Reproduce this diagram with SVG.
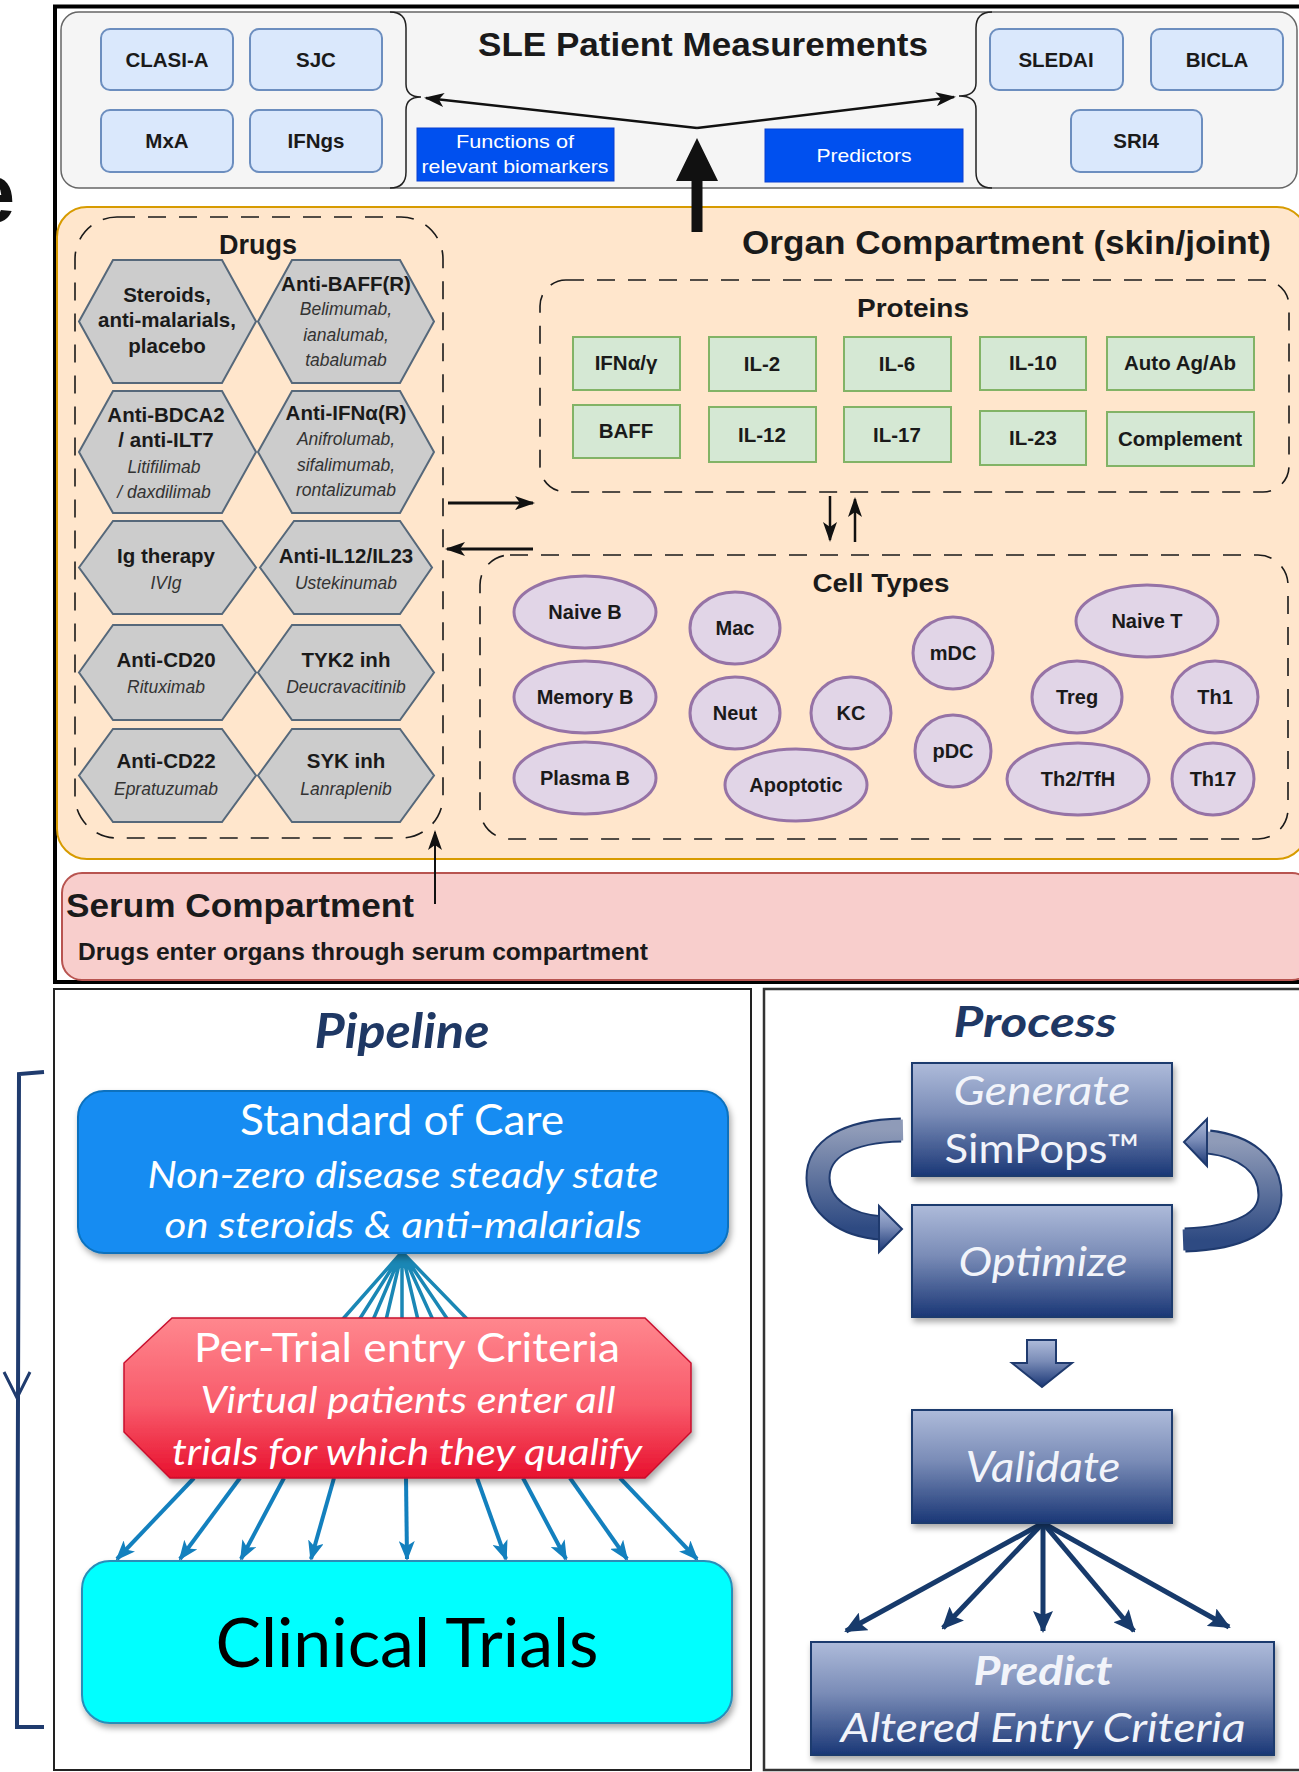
<svg xmlns="http://www.w3.org/2000/svg" width="1299" height="1772" viewBox="0 0 1299 1772">
<defs>
<style>
.t{font-family:"Liberation Sans",Arial,sans-serif;font-weight:bold;fill:#1a1a1a;text-anchor:middle}
.h{font-size:20.5px}
.i{font-family:"Liberation Sans",Arial,sans-serif;font-style:italic;fill:#333;text-anchor:middle;font-size:17.5px}
.w{font-family:"Liberation Sans",Arial,sans-serif;fill:#fff;text-anchor:middle;font-size:19px}
.meas{fill:#dae8fc;stroke:#6c8ebf;stroke-width:2}
.blue{fill:#0050ef;stroke:#0a3fd0;stroke-width:1}
.hex{fill:#cccccc;stroke:#56687a;stroke-width:2}
.prot{fill:#d5e8d4;stroke:#82b366;stroke-width:2}
.cell{fill:#e1d5e7;stroke:#9673a6;stroke-width:3}
.dash{fill:none;stroke:#1a1a1a;stroke-width:1.6;stroke-dasharray:18 13}
.c{font-family:Lato,"Liberation Sans",sans-serif;text-anchor:middle}
.pb{fill:url(#gNavy);stroke:#1f3a6e;stroke-width:2;filter:url(#sh)}
.pt{font-family:Lato,"Liberation Sans",sans-serif;text-anchor:middle;fill:#f2f4fa}
.fan{stroke:#1a87b5;stroke-width:3.5;fill:none}
.ct{stroke:#1380be;stroke-width:4;fill:none;marker-end:url(#mCt)}
.pv{stroke:#173a6b;stroke-width:5;fill:none;marker-end:url(#mPv)}
.blk{stroke:#111;fill:none;marker-end:url(#mBk)}
</style>
<linearGradient id="gNavy" x1="0" y1="0" x2="0" y2="1">
<stop offset="0" stop-color="#aebbda"/>
<stop offset="0.45" stop-color="#7a8cb7"/>
<stop offset="1" stop-color="#1a3776"/>
</linearGradient>
<linearGradient id="gRib" x1="0" y1="0" x2="0" y2="1">
<stop offset="0" stop-color="#8f9bb8"/>
<stop offset="1" stop-color="#2e4a82"/>
</linearGradient>
<linearGradient id="gRed" x1="0" y1="0" x2="0" y2="1">
<stop offset="0" stop-color="#ff878e"/>
<stop offset="0.55" stop-color="#f85a6a"/>
<stop offset="1" stop-color="#e8102e"/>
</linearGradient>
<filter id="sh" x="-10%" y="-10%" width="125%" height="130%">
<feDropShadow dx="2" dy="4" stdDeviation="3" flood-color="#000" flood-opacity="0.35"/>
</filter>
<marker id="mBk" viewBox="0 0 20 14" refX="18" refY="7" markerWidth="20" markerHeight="14" markerUnits="userSpaceOnUse" orient="auto">
<path d="M0,0 L20,7 L0,14 L5,7 z" fill="#111"/>
</marker>
<marker id="mCt" viewBox="0 0 20 16" refX="18" refY="8" markerWidth="20" markerHeight="16" markerUnits="userSpaceOnUse" orient="auto">
<path d="M0,0 L20,8 L0,16 L5,8 z" fill="#1380be"/>
</marker>
<marker id="mPv" viewBox="0 0 22 20" refX="20" refY="10" markerWidth="22" markerHeight="20" markerUnits="userSpaceOnUse" orient="auto">
<path d="M0,0 L22,10 L0,20 L4,10 z" fill="#173a6b"/>
</marker>
</defs>

<rect width="1299" height="1772" fill="#fff"/>
<text x="-31" y="222" font-family="Liberation Sans,Arial,sans-serif" font-weight="bold" font-size="83" fill="#111">e</text>

<!-- top black frame -->
<rect id="frame" x="55" y="6.5" width="1260" height="975.5" fill="#fff" stroke="#000" stroke-width="4"/>

<!-- patient measurements -->
<g id="measurements">
<rect x="61" y="12" width="1236" height="176" rx="18" fill="#f5f5f5" stroke="#666" stroke-width="1.5"/>
<path d="M390,12 Q406,12 406,28 L406,84 Q406,97 421,97 Q406,97 406,110 L406,172 Q406,188 390,188" fill="none" stroke="#222" stroke-width="1.5"/>
<path d="M992,12 Q976,12 976,28 L976,83 Q976,96 959,96 Q976,96 976,109 L976,172 Q976,188 992,188" fill="none" stroke="#222" stroke-width="1.5"/>
<text class="t" x="703" y="56" font-size="33" textLength="450" lengthAdjust="spacingAndGlyphs" fill="#111">SLE Patient Measurements</text>
</g>
<g id="clasi"><rect class="meas" x="101" y="29" width="132" height="61" rx="9"/><text class="t h" x="167" y="67">CLASI-A</text></g>
<g id="sjc"><rect class="meas" x="250" y="29" width="132" height="61" rx="9"/><text class="t h" x="316" y="67">SJC</text></g>
<g id="mxa"><rect class="meas" x="101" y="110" width="132" height="62" rx="9"/><text class="t h" x="167" y="148">MxA</text></g>
<g id="ifngs"><rect class="meas" x="250" y="110" width="132" height="62" rx="9"/><text class="t h" x="316" y="148">IFNgs</text></g>
<g id="sledai"><rect class="meas" x="990" y="29" width="133" height="61" rx="9"/><text class="t h" x="1056" y="67">SLEDAI</text></g>
<g id="bicla"><rect class="meas" x="1151" y="29" width="132" height="61" rx="9"/><text class="t h" x="1217" y="67">BICLA</text></g>
<g id="sri4"><rect class="meas" x="1071" y="110" width="131" height="62" rx="9"/><text class="t h" x="1136" y="148">SRI4</text></g>
<g id="functions"><rect class="blue" x="417" y="128" width="197" height="53"/>
<text class="w" x="515" y="148" textLength="118" lengthAdjust="spacingAndGlyphs">Functions of</text>
<text class="w" x="515" y="173" textLength="187" lengthAdjust="spacingAndGlyphs">relevant biomarkers</text></g>
<g id="predictors"><rect class="blue" x="765" y="129" width="198" height="53"/>
<text class="w" x="864" y="162" textLength="95" lengthAdjust="spacingAndGlyphs">Predictors</text></g>

<!-- organ compartment -->
<g id="organ">
<rect x="57" y="207" width="1250" height="652" rx="30" fill="#ffe6cc" stroke="#d79b00" stroke-width="2"/>
<text class="t" x="1271" y="254" font-size="33" text-anchor="end" style="text-anchor:end" textLength="529" lengthAdjust="spacingAndGlyphs" fill="#111">Organ Compartment (skin/joint)</text>
</g>

<g id="drugs">
<rect class="dash" x="75" y="217" width="368" height="621" rx="42"/>
<text class="t" x="258" y="254" font-size="27">Drugs</text>
</g>
<g id="hex1"><polygon class="hex" points="79,321.5 113,260 222,260 256,321.5 222,383 113,383"/>
<text class="t h" x="167" y="302">Steroids,</text><text class="t h" x="167" y="327">anti-malarials,</text><text class="t h" x="167" y="353">placebo</text></g>
<g id="hex2"><polygon class="hex" points="258,321.5 292,260 400,260 434,321.5 400,383 292,383"/>
<text class="t h" x="346" y="291">Anti-BAFF(R)</text><text class="i" x="346" y="315">Belimumab,</text><text class="i" x="346" y="341">ianalumab,</text><text class="i" x="346" y="366">tabalumab</text></g>
<g id="hex3"><polygon class="hex" points="79,452 113,391 222,391 256,452 222,513 113,513"/>
<text class="t h" x="166" y="422">Anti-BDCA2</text><text class="t h" x="166" y="447">/ anti-ILT7</text><text class="i" x="164" y="473">Litifilimab</text><text class="i" x="164" y="498">/ daxdilimab</text></g>
<g id="hex4"><polygon class="hex" points="258,452 292,391 400,391 434,452 400,513 292,513"/>
<text class="t h" x="346" y="420">Anti-IFNα(R)</text><text class="i" x="346" y="445">Anifrolumab,</text><text class="i" x="346" y="471">sifalimumab,</text><text class="i" x="346" y="496">rontalizumab</text></g>
<g id="hex5"><polygon class="hex" points="79,567.5 113,521 222,521 256,567.5 222,614 113,614"/>
<text class="t h" x="166" y="563">Ig therapy</text><text class="i" x="166" y="589">IVIg</text></g>
<g id="hex6"><polygon class="hex" points="260,567.5 294,521 400,521 432,567.5 400,614 294,614"/>
<text class="t h" x="346" y="563">Anti-IL12/IL23</text><text class="i" x="346" y="589">Ustekinumab</text></g>
<g id="hex7"><polygon class="hex" points="79,672.5 113,625 222,625 256,672.5 222,720 113,720"/>
<text class="t h" x="166" y="667">Anti-CD20</text><text class="i" x="166" y="693">Rituximab</text></g>
<g id="hex8"><polygon class="hex" points="258,672.5 292,625 400,625 434,672.5 400,720 292,720"/>
<text class="t h" x="346" y="667">TYK2 inh</text><text class="i" x="346" y="693">Deucravacitinib</text></g>
<g id="hex9"><polygon class="hex" points="79,775.5 113,729 222,729 256,775.5 222,822 113,822"/>
<text class="t h" x="166" y="768">Anti-CD22</text><text class="i" x="166" y="795">Epratuzumab</text></g>
<g id="hex10"><polygon class="hex" points="258,775.5 292,729 400,729 434,775.5 400,822 292,822"/>
<text class="t h" x="346" y="768">SYK inh</text><text class="i" x="346" y="795">Lanraplenib</text></g>

<g id="proteins">
<rect class="dash" x="540" y="280" width="749" height="212" rx="26"/>
<text class="t" x="913" y="317" font-size="25" textLength="112" lengthAdjust="spacingAndGlyphs">Proteins</text>
</g>
<g id="p-ifn"><rect class="prot" x="573" y="337" width="107" height="53"/><text class="t" font-size="20.5" x="626" y="370">IFNα/γ</text></g>
<g id="p-il2"><rect class="prot" x="709" y="337" width="107" height="54"/><text class="t" font-size="20.5" x="762" y="371">IL-2</text></g>
<g id="p-il6"><rect class="prot" x="844" y="337" width="107" height="54"/><text class="t" font-size="20.5" x="897" y="371">IL-6</text></g>
<g id="p-il10"><rect class="prot" x="980" y="337" width="106" height="53"/><text class="t" font-size="20.5" x="1033" y="370">IL-10</text></g>
<g id="p-auto"><rect class="prot" x="1107" y="337" width="147" height="53"/><text class="t" font-size="20.5" x="1180" y="370">Auto Ag/Ab</text></g>
<g id="p-baff"><rect class="prot" x="573" y="405" width="107" height="53"/><text class="t" font-size="20.5" x="626" y="438">BAFF</text></g>
<g id="p-il12"><rect class="prot" x="709" y="407" width="107" height="55"/><text class="t" font-size="20.5" x="762" y="442">IL-12</text></g>
<g id="p-il17"><rect class="prot" x="844" y="407" width="107" height="55"/><text class="t" font-size="20.5" x="897" y="442">IL-17</text></g>
<g id="p-il23"><rect class="prot" x="980" y="411" width="106" height="54"/><text class="t" font-size="20.5" x="1033" y="445">IL-23</text></g>
<g id="p-comp"><rect class="prot" x="1107" y="412" width="147" height="54"/><text class="t" font-size="20.5" x="1180" y="446">Complement</text></g>

<g id="celltypes">
<rect class="dash" x="480" y="555" width="808" height="284" rx="30"/>
<text class="t" x="881" y="592" font-size="25" textLength="137" lengthAdjust="spacingAndGlyphs">Cell Types</text>
</g>
<g id="c-naiveb"><ellipse class="cell" cx="585" cy="612" rx="71" ry="36"/><text class="t" font-size="20" x="585" y="619">Naive B</text></g>
<g id="c-memb"><ellipse class="cell" cx="585" cy="697" rx="71" ry="36"/><text class="t" font-size="20" x="585" y="704">Memory B</text></g>
<g id="c-plasmab"><ellipse class="cell" cx="585" cy="778" rx="71" ry="36"/><text class="t" font-size="20" x="585" y="785">Plasma B</text></g>
<g id="c-mac"><ellipse class="cell" cx="735" cy="628" rx="45" ry="36"/><text class="t" font-size="20" x="735" y="635">Mac</text></g>
<g id="c-neut"><ellipse class="cell" cx="735" cy="713" rx="45" ry="36"/><text class="t" font-size="20" x="735" y="720">Neut</text></g>
<g id="c-kc"><ellipse class="cell" cx="851" cy="713" rx="40" ry="36"/><text class="t" font-size="20" x="851" y="720">KC</text></g>
<g id="c-apop"><ellipse class="cell" cx="796" cy="785" rx="71" ry="36"/><text class="t" font-size="20" x="796" y="792">Apoptotic</text></g>
<g id="c-mdc"><ellipse class="cell" cx="953" cy="653" rx="40" ry="36"/><text class="t" font-size="20" x="953" y="660">mDC</text></g>
<g id="c-pdc"><ellipse class="cell" cx="953" cy="751" rx="38" ry="36"/><text class="t" font-size="20" x="953" y="758">pDC</text></g>
<g id="c-naivet"><ellipse class="cell" cx="1147" cy="621" rx="71" ry="36"/><text class="t" font-size="20" x="1147" y="628">Naive T</text></g>
<g id="c-treg"><ellipse class="cell" cx="1077" cy="697" rx="45" ry="36"/><text class="t" font-size="20" x="1077" y="704">Treg</text></g>
<g id="c-th1"><ellipse class="cell" cx="1215" cy="697" rx="43" ry="36"/><text class="t" font-size="20" x="1215" y="704">Th1</text></g>
<g id="c-th2"><ellipse class="cell" cx="1078" cy="779" rx="71" ry="36"/><text class="t" font-size="20" x="1078" y="786">Th2/TfH</text></g>
<g id="c-th17"><ellipse class="cell" cx="1213" cy="779" rx="41" ry="36"/><text class="t" font-size="20" x="1213" y="786">Th17</text></g>

<!-- serum -->
<g id="serum">
<rect x="62" y="873" width="1250" height="107" rx="20" fill="#f8cecc" stroke="#b85450" stroke-width="2"/>
<text class="t" x="66" y="917" font-size="34" style="text-anchor:start" textLength="348" lengthAdjust="spacingAndGlyphs" fill="#111">Serum Compartment</text>
<text class="t" x="78" y="960" font-size="23" style="text-anchor:start" textLength="570" lengthAdjust="spacingAndGlyphs" fill="#111">Drugs enter organs through serum compartment</text>
</g>

<!-- bottom panels -->
<g id="pipeline">
<rect x="54" y="989" width="697" height="781" fill="#fff" stroke="#222" stroke-width="2"/>
<text class="c" x="402" y="1048" font-size="48" font-weight="bold" font-style="italic" fill="#1f3864" textLength="175" lengthAdjust="spacingAndGlyphs">Pipeline</text>
</g>
<g id="process">
<rect x="764" y="989" width="545" height="781" fill="#fff" stroke="#333" stroke-width="2.5"/>
<text class="c" x="1035" y="1037" font-size="42" font-weight="bold" font-style="italic" fill="#1f3864" textLength="163" lengthAdjust="spacingAndGlyphs">Process</text>
</g>

<g id="connectors">
<!-- top measurement arrows -->
<path class="blk" d="M697,128 L426,98" stroke-width="2.5"/>
<path class="blk" d="M697,128 L954,97" stroke-width="2.5"/>
<polygon points="691.5,232 702.5,232 702.5,181 718,181 697,138 676,181 691.5,181" fill="#111"/>
<!-- drugs <-> organ -->
<path class="blk" d="M448,503 L533,503" stroke-width="3"/>
<path class="blk" d="M533,549 L447,549" stroke-width="3"/>
<path class="blk" d="M830,496 L830,540" stroke-width="2.5"/>
<path class="blk" d="M855,542 L855,499" stroke-width="2.5"/>
<path class="blk" d="M435,904 L435,832" stroke-width="2"/>
<!-- pipeline fan -->
<path class="fan" d="M402,1252 L342,1320 M402,1252 L359,1320 M402,1252 L373,1320 M402,1252 L386,1320 M402,1252 L402,1320 M402,1252 L418,1320 M402,1252 L433,1320 M402,1252 L448,1320 M402,1252 L468,1320"/>
<path class="ct" d="M194,1478 L117,1559"/>
<path class="ct" d="M240,1478 L180,1559"/>
<path class="ct" d="M284,1478 L241,1559"/>
<path class="ct" d="M334,1478 L311,1559"/>
<path class="ct" d="M406,1478 L407,1559"/>
<path class="ct" d="M477,1478 L506,1559"/>
<path class="ct" d="M523,1478 L566,1559"/>
<path class="ct" d="M570,1478 L627,1559"/>
<path class="ct" d="M620,1478 L697,1559"/>
<!-- process fan -->
<path class="pv" d="M1043,1523 L846,1631"/>
<path class="pv" d="M1043,1523 L943,1628"/>
<path class="pv" d="M1043,1523 L1043,1631"/>
<path class="pv" d="M1043,1523 L1134,1631"/>
<path class="pv" d="M1043,1523 L1229,1627"/>
<!-- ribbons -->
<path d="M901,1130 C845,1131 818,1150 818,1178 C818,1206 845,1226 882,1228" fill="none" stroke="#1f3a6e" stroke-width="25"/>
<path d="M903,1130 C845,1131 818,1150 818,1178 C818,1206 845,1226 884,1228" fill="none" stroke="url(#gRib)" stroke-width="21"/>
<polygon points="879,1206 902,1229 879,1252" fill="url(#gNavy)" stroke="#1f3a6e" stroke-width="2"/>
<path d="M1185,1240 C1240,1238 1270,1222 1270,1195 C1270,1165 1245,1146 1209,1142" fill="none" stroke="#1f3a6e" stroke-width="25"/>
<path d="M1183,1240 C1240,1238 1270,1222 1270,1195 C1270,1165 1245,1146 1207,1142" fill="none" stroke="url(#gRib)" stroke-width="21"/>
<polygon points="1207,1119 1184,1142 1207,1166" fill="url(#gNavy)" stroke="#1f3a6e" stroke-width="2"/>
<polygon points="1027,1340 1056,1340 1056,1363 1072,1363 1042,1387 1012,1363 1027,1363" fill="url(#gNavy)" stroke="#1f3a6e" stroke-width="2"/>
<!-- bracket -->
<path d="M44,1072 L19,1074 L17,1727 L44,1727" fill="none" stroke="#1f3b6e" stroke-width="4"/>
<path d="M4,1372 L17,1398 L30,1372" fill="none" stroke="#1f3b6e" stroke-width="3"/>
</g>

<g id="soc">
<rect x="78" y="1091" width="650" height="162" rx="26" fill="#138cf2" stroke="#0b71bd" stroke-width="2" filter="url(#sh)"/>
<text class="c" x="402" y="1135" font-size="42" fill="#fff" textLength="324" lengthAdjust="spacingAndGlyphs">Standard of Care</text>
<text class="c" x="403" y="1188" font-size="37" font-style="italic" fill="#fff" textLength="511" lengthAdjust="spacingAndGlyphs">Non-zero disease steady state</text>
<text class="c" x="403" y="1238" font-size="37" font-style="italic" fill="#fff" textLength="477" lengthAdjust="spacingAndGlyphs">on steroids &amp; anti-malarials</text>
</g>
<g id="pertrial">
<polygon points="172,1318 645,1318 691,1363 691,1432 645,1478 170,1478 124,1432 124,1363" fill="url(#gRed)" stroke="#c8102e" stroke-width="1.5" filter="url(#sh)"/>
<text class="c" x="407" y="1362" font-size="40" fill="#fff" textLength="426" lengthAdjust="spacingAndGlyphs">Per-Trial entry Criteria</text>
<text class="c" x="408" y="1413" font-size="37" font-style="italic" fill="#fff" textLength="415" lengthAdjust="spacingAndGlyphs">Virtual patients enter all</text>
<text class="c" x="407" y="1465" font-size="37" font-style="italic" fill="#fff" textLength="470" lengthAdjust="spacingAndGlyphs">trials for which they qualify</text>
</g>
<g id="clinical">
<rect x="82" y="1561" width="650" height="162" rx="28" fill="#00ffff" stroke="#2a8db8" stroke-width="2" filter="url(#sh)"/>
<text class="c" x="407" y="1667" font-size="67" fill="#000" textLength="383" lengthAdjust="spacingAndGlyphs">Clinical Trials</text>
</g>
<g id="generate">
<rect class="pb" x="912" y="1063" width="260" height="113"/>
<text class="pt" x="1042" y="1105" font-size="40" font-style="italic" textLength="177" lengthAdjust="spacingAndGlyphs">Generate</text>
<text class="pt" x="1042" y="1163" font-size="40" textLength="195" lengthAdjust="spacingAndGlyphs">SimPops™</text>
</g>
<g id="optimize">
<rect class="pb" x="912" y="1205" width="260" height="112"/>
<text class="pt" x="1043" y="1276" font-size="41" font-style="italic" textLength="169" lengthAdjust="spacingAndGlyphs">Optimize</text>
</g>
<g id="validate">
<rect class="pb" x="912" y="1410" width="260" height="113"/>
<text class="pt" x="1043" y="1482" font-size="42" font-style="italic" textLength="155" lengthAdjust="spacingAndGlyphs">Validate</text>
</g>
<g id="predict">
<rect class="pb" x="811" y="1642" width="463" height="113"/>
<text class="pt" x="1043" y="1685" font-size="40" font-weight="bold" font-style="italic" textLength="139" lengthAdjust="spacingAndGlyphs">Predict</text>
<text class="pt" x="1043" y="1742" font-size="40" font-style="italic" textLength="405" lengthAdjust="spacingAndGlyphs">Altered Entry Criteria</text>
</g>
</svg>
